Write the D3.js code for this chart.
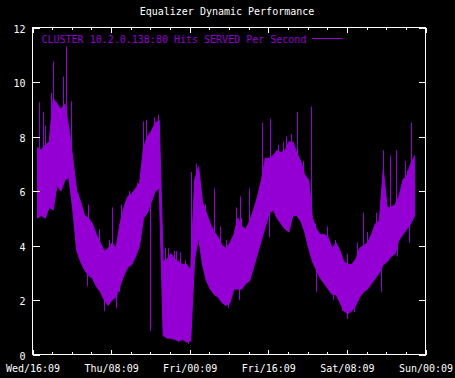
<!DOCTYPE html>
<html>
<head>
<meta charset="utf-8">
<script src="https://cdn.jsdelivr.net/npm/d3@7"></script>
<style>
  html, body { margin: 0; padding: 0; background: #000; }
  svg { display: block; }
  text { font-family: "DejaVu Sans Mono", monospace; font-size: 10px; }
</style>
</head>
<body>
<div id="chart"></div>
<script>
// tick labels (majors every 16h, starting Wed 16:09)
const xTickLabels = ['Wed/16:09', 'Thu/08:09', 'Fri/00:09', 'Fri/16:09', 'Sat/08:09', 'Sun/00:09'];
const yTicks = [0, 2, 4, 6, 8, 10, 12];

// samples every 0.8h from hour 1 : upper and lower edge of the noisy band
const startHour = 1;
const stepHours = 0.8;
const hiVals = [
  7.6, 7.5, 7.7, 7.8, 9.4, 9.2, 9.0, 9.2, 8.3, 7.2,
  6.0, 5.6, 5.1, 5.0, 4.8, 4.4, 4.1, 3.8, 3.9, 4.1,
  3.9, 4.8, 5.4, 5.8, 5.9, 6.1, 6.3, 7.6, 8.0, 8.2,
  8.5, 8.6, 3.4, 3.5, 3.7, 3.5, 3.4, 3.3, 3.3, 3.1,
  6.4, 6.9, 5.6, 5.2, 4.8, 4.5, 4.3, 4.0, 3.9, 4.1,
  4.4, 5.0, 4.7, 4.6, 4.9, 5.3, 5.8, 6.4, 7.2, 7.2,
  7.3, 7.5, 7.4, 7.5, 7.8, 7.8, 7.4, 7.1, 6.6, 6.4,
  5.0, 4.6, 4.4, 4.4, 4.3, 3.9, 4.1, 3.8, 3.4, 3.3,
  3.3, 3.5, 3.9, 4.0, 4.1, 4.4, 4.8, 4.9, 6.8, 5.4,
  5.4, 5.5, 5.8, 6.4, 6.6, 7.0, 7.3
];
const loVals = [
  5.0, 5.1, 5.0, 5.4, 5.3, 6.2, 6.0, 6.4, 6.5, 5.3,
  3.8, 3.4, 3.1, 2.9, 2.8, 2.5, 2.3, 2.0, 1.8, 2.0,
  2.1, 2.5, 2.9, 3.2, 3.3, 3.6, 4.0, 5.0, 5.2, 5.6,
  6.0, 6.1, 0.7, 0.6, 0.6, 0.55, 0.5, 0.55, 0.45, 0.5,
  3.5, 4.3, 3.3, 2.7, 2.4, 2.2, 2.1, 1.9, 1.8, 1.9,
  2.4, 2.4, 2.4, 2.6, 2.7, 3.2, 3.7, 4.2, 4.7, 5.2,
  5.3, 5.0, 4.8, 4.6, 4.5, 5.1, 5.1, 4.9, 4.5, 3.9,
  3.4, 3.1, 2.8, 2.6, 2.4, 2.2, 2.2, 1.9, 1.6, 1.5,
  1.6, 1.8, 2.1, 2.3, 2.4, 2.6, 2.8, 3.0, 3.3, 3.4,
  3.6, 3.7, 4.2, 4.4, 4.6, 4.8, 5.1
];

// single-sample spikes that stick out of the band (hour, value)
const spikeHours = [
  1.28, 2.09, 2.64, 3.86, 4.21, 6.20, 6.77, 7.79, 9.20, 10.02,
  11.36, 13.54, 15.63, 16.12, 17.95, 18.77, 19.58, 11.03, 14.55, 17.00,
  17.67, 21.33, 22.57, 23.18, 24.80, 25.61, 23.99, 27.03, 27.65, 28.80,
  29.27, 29.96, 31.10, 32.33, 29.62, 31.65, 33.34, 35.05, 36.94, 38.11,
  39.45, 39.74, 41.42, 41.97, 42.28, 42.44, 44.05, 46.05, 46.76, 47.39,
  48.08, 48.44, 49.91, 50.93, 51.60, 52.59, 53.87, 55.12, 56.72, 57.57,
  57.71, 59.07, 60.01, 61.23, 61.58, 63.06, 63.96, 63.98, 65.44, 66.12,
  67.35, 68.15, 69.86, 70.88, 70.88, 71.36, 72.84, 73.94, 74.14, 74.83,
  75.77, 76.29, 76.64, 77.11
];
const spikeVals = [
  9.26, 8.9, 8.4, 9.6, 10.76, 10.2, 11.3, 9.3, 5.9, 5.3,
  5.5, 4.6, 4.2, 5.4, 5.5, 5.6, 6.0, 2.5, 1.6, 1.7,
  2.3, 6.3, 8.55, 8.6, 8.7, 8.8, 0.86, 3.9, 3.9, 3.8,
  3.8, 3.75, 3.45, 6.7, 0.45, 0.4, 7.0, 5.5, 6.1, 4.7,
  4.2, 1.7, 5.4, 2.0, 5.8, 5.0, 6.1, 6.1, 8.5, 7.2,
  4.3, 8.65, 7.7, 7.8, 8.0, 8.1, 8.9, 7.1, 9.1, 4.8,
  2.3, 4.4, 4.7, 2.0, 4.2, 1.6, 3.7, 1.3, 1.55, 4.1,
  5.2, 4.5, 5.2, 4.8, 2.3, 7.5, 7.3, 7.5, 3.6, 6.0,
  7.1, 6.75, 4.1, 8.5
];

const width = 455;
const height = 378;
const purple = '#9400d3';

const x = d3.scaleLinear().domain([0, 80]).range([32.5, 425.5]);
const y = d3.scaleLinear().domain([0, 12]).range([354.5, 27.5]);

const svg = d3.select('#chart').append('svg')
  .attr('width', width)
  .attr('height', height);

svg.append('rect')
  .attr('width', width)
  .attr('height', height)
  .attr('fill', '#000');

// title
svg.append('text')
  .attr('x', 227)
  .attr('y', 15)
  .attr('text-anchor', 'middle')
  .attr('fill', '#fff')
  .text('Equalizer Dynamic Performance');

// data band
const band = hiVals.map((hi, i) => ({ t: startHour + i * stepHours, hi, lo: loVals[i] }));

svg.append('path')
  .datum(band)
  .attr('fill', purple)
  .attr('stroke', purple)
  .attr('stroke-width', 1)
  .attr('d', d3.area()
    .x(d => x(d.t))
    .y0(d => y(d.lo))
    .y1(d => y(d.hi)));

const spikes = spikeHours.map((t, i) => {
  const k = Math.max(0, Math.min(band.length - 1, Math.round((t - startHour) / stepHours)));
  return { t, v: spikeVals[i], base: (band[k].hi + band[k].lo) / 2 };
});

svg.append('g')
  .selectAll('line')
  .data(spikes)
  .join('line')
  .attr('x1', d => Math.round(x(d.t)) + 0.5)
  .attr('x2', d => Math.round(x(d.t)) + 0.5)
  .attr('y1', d => y(d.base))
  .attr('y2', d => y(d.v))
  .attr('stroke', purple)
  .attr('stroke-width', 1);

// axes
const majorHours = xTickLabels.map((_, i) => i * 16);
const minorHours = d3.range(0, 81, 4).filter(h => h % 16 !== 0);

function styleAxis(g) {
  g.select('.domain').remove();
  g.selectAll('line').attr('stroke', '#fff').attr('shape-rendering', 'crispEdges');
  g.selectAll('text').attr('fill', '#fff').attr('font-family', '"DejaVu Sans Mono", monospace').attr('font-size', 10);
}

svg.append('g')
  .attr('transform', `translate(0,${y(0)})`)
  .call(d3.axisBottom(x).tickValues(majorHours).tickSize(-5).tickPadding(10.5)
    .tickFormat((_, i) => xTickLabels[i]))
  .call(styleAxis);

svg.append('g')
  .attr('transform', `translate(0,${y(0)})`)
  .call(d3.axisBottom(x).tickValues(minorHours).tickSize(-2.5).tickFormat(''))
  .call(styleAxis);

svg.append('g')
  .attr('transform', `translate(0,${y(12)})`)
  .call(d3.axisTop(x).tickValues(majorHours).tickSize(-5).tickFormat(''))
  .call(styleAxis);

svg.append('g')
  .attr('transform', `translate(0,${y(12)})`)
  .call(d3.axisTop(x).tickValues(minorHours).tickSize(-2.5).tickFormat(''))
  .call(styleAxis);

svg.append('g')
  .attr('transform', `translate(${x(0)},0)`)
  .call(d3.axisLeft(y).tickValues(yTicks).tickSize(-7).tickPadding(7))
  .call(styleAxis)
  .call(g => g.selectAll('text').attr('dy', '0.45em'));

svg.append('g')
  .attr('transform', `translate(${x(80)},0)`)
  .call(d3.axisRight(y).tickValues(yTicks).tickSize(-7).tickFormat(''))
  .call(styleAxis);

// border
svg.append('rect')
  .attr('x', x(0))
  .attr('y', y(12))
  .attr('width', x(80) - x(0))
  .attr('height', y(0) - y(12))
  .attr('fill', 'none')
  .attr('stroke', '#fff')
  .attr('shape-rendering', 'crispEdges');

// legend
svg.append('text')
  .attr('x', 41.5)
  .attr('y', 43)
  .attr('fill', purple)
  .text('CLUSTER 10.2.0.138:80 Hits SERVED Per Second');

svg.append('line')
  .attr('x1', 312)
  .attr('x2', 343)
  .attr('y1', 38.5)
  .attr('y2', 38.5)
  .attr('stroke', purple)
  .attr('stroke-width', 1);
</script>
</body>
</html>
